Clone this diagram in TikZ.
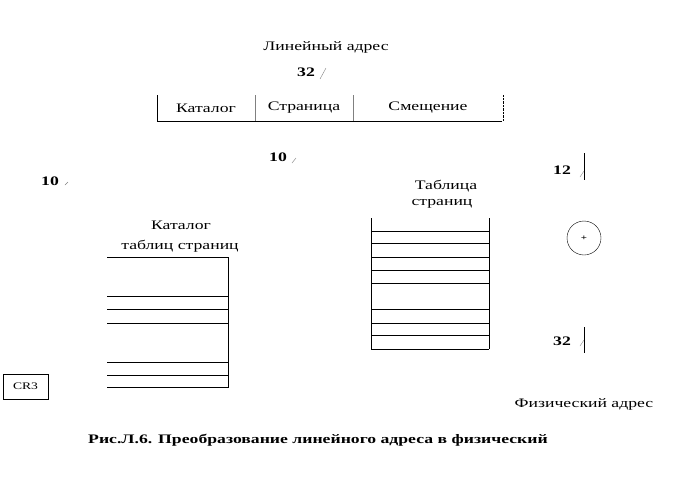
\documentclass[tikz,border=0pt]{standalone}
\usepackage{fontspec}
\setmainfont[FakeStretch=1.36]{Liberation Serif}
\usetikzlibrary{positioning}

\begin{document}
\begin{tikzpicture}[x=1pt,y=-1pt,
  every node/.style={inner sep=0pt,},%
  t/.style={font=\fontsize{13}{15}\selectfont},%
  n/.style={font=\fontsize{13}{15}\selectfont\bfseries},%
  sl/.style={gray,thin},%
  ln/.style={line width=0.8pt},%
  ]
  \useasboundingbox (0,0) rectangle (673,477);

  % linear address
  \node (lin) [t] at (326,47) {Линейный адрес};
  \node (n32a) [n] at (306,72) {32};
  \draw [sl] (320,79) -- (326,68);

  \draw [ln] (157,95) -- (157,121) -- (502,121);
  \draw [ln,gray] (255,95) -- (255,121);
  \draw [ln,gray] (353,95) -- (353,121);
  \draw [densely dotted] (503,95) -- (503,121);
  \node (cat) [t] at (206,108) {Каталог};
  \node (pg) [t] at (304,108) {Страница};
  \node (off) [t] at (428,108) {Смещение};

  \node (n10a) [n] at (278,157) {10};
  \draw [sl] (292,163) -- (296,158);
  \node (n10b) [n] at (50,181) {10};
  \draw [sl] (65,185) -- (68,182);

  % directory
  \node (dir1) [t] at (181,225) {Каталог};
  \node (dir2) [t] at (180,246) {таблиц страниц};
  \foreach \y in {257,296,309,323,362,375,387}
    \draw [ln] (107,\y) -- (228,\y);
  \draw [ln] (228,257) -- (228,388);

  % page table
  \node (tab1) [t] at (446,186) {Таблица};
  \node (tab2) [t] at (442,204) {страниц};
  \foreach \y in {231,243,257,270,283,309,323,335,349}
    \draw [ln] (371,\y) -- (489,\y);
  \draw [ln] (371,218) -- (371,349);
  \draw [ln] (489,218) -- (489,349);

  % offset, adder
  \node (n12) [n] at (562,170) {12};
  \draw [ln] (584,153) -- (584,180);
  \draw [sl] (580,177) -- (584,171);
  \node (sum) [circle,draw,minimum size=34pt,font=\fontsize{8}{8}\selectfont\bfseries] at (584,238) {+};
  \node (n32b) [n] at (562,341) {32};
  \draw [ln] (584,327) -- (584,353);
  \draw [sl] (580,346) -- (584,340);

  \node (cr3) [draw,minimum width=45pt,minimum height=25pt,
  font=\fontsize{10}{12}\selectfont] at (25.5,386.5) {CR3};
  \node (phys) [t] at (584,404) {Физический адрес};

  \node (cap) [n] at (318,440) {Рис.Л.6. Преобразование линейного адреса в физический};
\end{tikzpicture}
\end{document}
